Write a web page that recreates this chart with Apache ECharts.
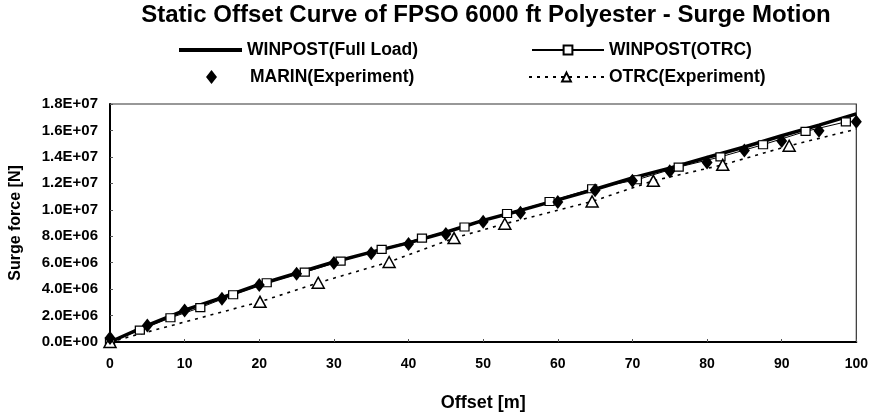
<!DOCTYPE html>
<html>
<head>
<meta charset="utf-8">
<script src="https://cdn.jsdelivr.net/npm/echarts@6/dist/echarts.min.js"></script>
<style>
html,body{margin:0;padding:0;background:#fff;}
#c{width:871px;height:417px;}
</style>
</head>
<body>
<div id="c"></div>
<script>
// ---- data ----
var titleText = 'Static Offset Curve of FPSO 6000 ft Polyester - Surge Motion';
var xTicks = [0, 10, 20, 30, 40, 50, 60, 70, 80, 90, 100];
var yTickLabels = ['0.0E+00','2.0E+06','4.0E+06','6.0E+06','8.0E+06','1.0E+07','1.2E+07','1.4E+07','1.6E+07','1.8E+07'];

var fullLoadX = [0, 5, 10, 15, 20, 25, 30, 35, 40, 45, 50, 55, 60, 65, 70, 75, 80, 85, 90, 95, 100];
var fullLoadY = [0, 1.25e6, 2.4e6, 3.35e6, 4.35e6, 5.2e6, 6.05e6, 6.8e6, 7.5e6, 8.3e6, 9.2e6, 9.95e6, 10.75e6, 11.55e6, 12.4e6, 13.15e6, 13.95e6, 14.75e6, 15.6e6, 16.4e6, 17.25e6];

var winOtrcX = [0, 4, 8.1, 12.1, 16.5, 21.0, 26.1, 30.9, 36.4, 41.8, 47.5, 53.2, 58.9, 64.6, 70.6, 76.2, 81.8, 87.5, 93.2, 98.6];
var winOtrcY = [0, 0.9e6, 1.83e6, 2.6e6, 3.57e6, 4.48e6, 5.28e6, 6.12e6, 7.01e6, 7.86e6, 8.7e6, 9.72e6, 10.63e6, 11.59e6, 12.27e6, 13.23e6, 14.0e6, 14.92e6, 15.93e6, 16.65e6];

var marinX = [0, 5, 10, 15, 20, 25, 30, 35, 40, 45, 50, 55, 60, 65, 70, 75, 80, 85, 90, 95, 100];
var marinY = [0.3e6, 1.25e6, 2.39e6, 3.28e6, 4.31e6, 5.16e6, 5.98e6, 6.72e6, 7.42e6, 8.17e6, 9.1e6, 9.78e6, 10.58e6, 11.47e6, 12.19e6, 12.92e6, 13.57e6, 14.48e6, 15.2e6, 15.98e6, 16.65e6];

var otrcX = [0, 20.1, 27.9, 37.4, 46.1, 52.9, 64.6, 72.8, 82.1, 91.0, 100];
var otrcY = [0, 3.04e6, 4.48e6, 6.05e6, 7.86e6, 8.94e6, 10.63e6, 12.19e6, 13.4e6, 14.84e6, 16.1e6];

var names = ['WINPOST(Full Load)', 'WINPOST(OTRC)', 'MARIN(Experiment)', 'OTRC(Experiment)'];

function pairs(xs, ys) { return xs.map(function (x, i) { return [x, ys[i]]; }); }

var FONT = '"Liberation Sans", Arial, sans-serif';
var otrcData = pairs(otrcX, otrcY).map(function (p, i, arr) {
  return i === arr.length - 1 ? { value: p, symbol: 'none' } : p;
});

function legendAt(item, left, top, w, h, padLeft) {
  return {
    data: [item], left: left, top: top, itemWidth: w, itemHeight: h, padding: 0,
    textStyle: { fontFamily: FONT, fontWeight: 'bold', fontSize: 17.5, color: '#000',
                 padding: [0, 0, 0, padLeft || 0] },
    selectedMode: false
  };
}

var chart = echarts.init(document.getElementById('c'), null, { renderer: 'canvas' });
chart.setOption({
  animation: false,
  backgroundColor: '#fff',
  title: {
    text: titleText, left: 486, top: 3, textAlign: 'center', padding: 0,
    textStyle: { fontFamily: FONT, fontWeight: 'bold', fontSize: 24, color: '#000' }
  },
  legend: [
    legendAt({ name: names[0], icon: 'rect' }, 179, 41, 63, 4),
    legendAt(names[1], 531, 41, 72, 11),
    legendAt(names[2], 206, 68, 11, 14, 28),
    legendAt(names[3], 528, 68, 75, 11)
  ],
  grid: { left: 109, right: 12, top: 104, bottom: 62, show: true, borderColor: '#333', borderWidth: 1.2 },
  xAxis: {
    type: 'value', min: 0, max: 100, interval: 10,
    name: 'Offset [m]', nameLocation: 'middle', nameGap: 52,
    nameTextStyle: { fontFamily: FONT, fontWeight: 'bold', fontSize: 18, color: '#000' },
    axisLine: { lineStyle: { color: '#000', width: 2 } },
    axisTick: { inside: true, length: 3, lineStyle: { color: '#555' } },
    splitLine: { show: false },
    axisLabel: { margin: 15, fontFamily: FONT, fontWeight: 'bold', fontSize: 14, color: '#000' }
  },
  yAxis: {
    type: 'value', min: 0, max: 1.8e7, interval: 2e6,
    name: 'Surge force [N]', nameLocation: 'middle', nameGap: 86, nameRotate: 90,
    nameTextStyle: { fontFamily: FONT, fontWeight: 'bold', fontSize: 16, color: '#000' },
    axisLine: { show: true, lineStyle: { color: '#000', width: 2 } },
    axisTick: { show: true, inside: true, length: 3, lineStyle: { color: '#555' } },
    splitLine: { show: false },
    axisLabel: {
      margin: 12, fontFamily: FONT, fontWeight: 'bold', fontSize: 15, color: '#000',
      formatter: function (v) { return yTickLabels[Math.round(v / 2e6)]; }
    }
  },
  series: [
    {
      name: names[0], type: 'line', data: pairs(fullLoadX, fullLoadY),
      symbol: 'none', lineStyle: { color: '#000', width: 3.5 }, itemStyle: { color: '#000' }, z: 3
    },
    {
      name: names[1], type: 'line', data: pairs(winOtrcX, winOtrcY),
      symbol: 'rect', symbolSize: [9, 8], showAllSymbol: true,
      lineStyle: { color: '#000', width: 1 },
      itemStyle: { color: '#fff', borderColor: '#000', borderWidth: 1.2 }, z: 4
    },
    {
      name: names[2], type: 'scatter', data: pairs(marinX, marinY),
      symbol: 'diamond', symbolSize: [11, 14],
      itemStyle: { color: '#000', opacity: 1 }, z: 5
    },
    {
      name: names[3], type: 'line', data: otrcData,
      symbol: 'triangle', symbolSize: [12, 11], showAllSymbol: true,
      lineStyle: { color: '#000', width: 1.6, type: [3, 5] },
      itemStyle: { color: '#fff', borderColor: '#000', borderWidth: 1.5 }, z: 4
    }
  ]
});
</script>
</body>
</html>
